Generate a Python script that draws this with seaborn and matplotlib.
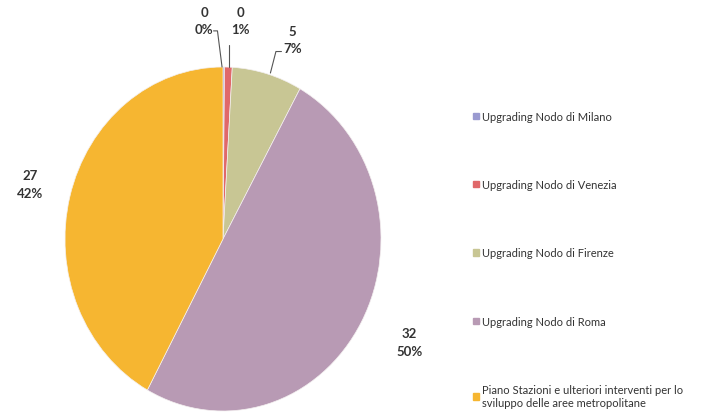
import matplotlib
matplotlib.use("Agg")
import matplotlib.pyplot as plt
import seaborn as sns

# Investment by project (values in the chart's units)
categories = [
    "Upgrading Nodo di Milano",
    "Upgrading Nodo di Venezia",
    "Upgrading Nodo di Firenze",
    "Upgrading Nodo di Roma",
    "Piano Stazioni e ulteriori interventi per lo\nsviluppo delle aree metropolitane",
]
values = [0.1, 0.5, 4.6, 32.0, 27.0]
colors = ["#9a9ad0", "#e0686a", "#c8c694", "#b89ab4", "#f6b631"]

sns.set_theme(style="white")
plt.rcParams["font.family"] = ["Lato", "DejaVu Sans"]

W, H = 726, 414
fig = plt.figure(figsize=(W / 100, H / 100), dpi=100)
fig.patch.set_facecolor("white")

# pie box in pixels (left, top, right, bottom)
L, T, R, B = 65, 68, 381, 412
ax = fig.add_axes([L / W, 1 - B / H, (R - L) / W, (B - T) / H])

wedges, _ = ax.pie(values, colors=colors, startangle=90, counterclock=False,
                   wedgeprops=dict(linewidth=0.5, edgecolor="#f4f0f0"))
ax.set_aspect("auto")
ax.set_xlim(-1, 1)
ax.set_ylim(-1, 1)
ax.axis("off")

total = sum(values)
labels = [f"{v:.0f}\n{v / total * 100:.0f}%" for v in values]

# label anchor points in data coords, and leader line segments where used
label_pos = [(-0.12, 1.27), (0.11, 1.27), (0.44, 1.16), (1.18, -0.60), (-1.22, 0.32)]
leaders = [
    [(-0.06, 1.21), (-0.035, 1.21), (-0.006, 1.0)],
    [(0.036, 1.13), (0.036, 1.0)],
    [(0.37, 1.09), (0.335, 1.09), (0.30, 0.965)],
    None,
    None,
]
for lab, (x, y), ld in zip(labels, label_pos, leaders):
    ax.text(x, y, lab, ha="center", va="center", fontsize=9.5,
            fontweight="bold", color="#333333", linespacing=1.55,
            clip_on=False)
    if ld:
        xs, ys = zip(*ld)
        ax.plot(xs, ys, color="#555555", lw=0.8, clip_on=False)

# legend
handles = [plt.Rectangle((0, 0), 1, 1, color=c) for c in colors]
leg = fig.legend(handles, categories, loc="upper left",
                 bbox_to_anchor=(463 / W, 1 - 102 / H), frameon=False,
                 fontsize=8, handlelength=0.5, handleheight=0.5,
                 handletextpad=0.3, labelspacing=5.15, labelcolor="#333333")

fig.savefig("out.png", dpi=100, facecolor="white")
